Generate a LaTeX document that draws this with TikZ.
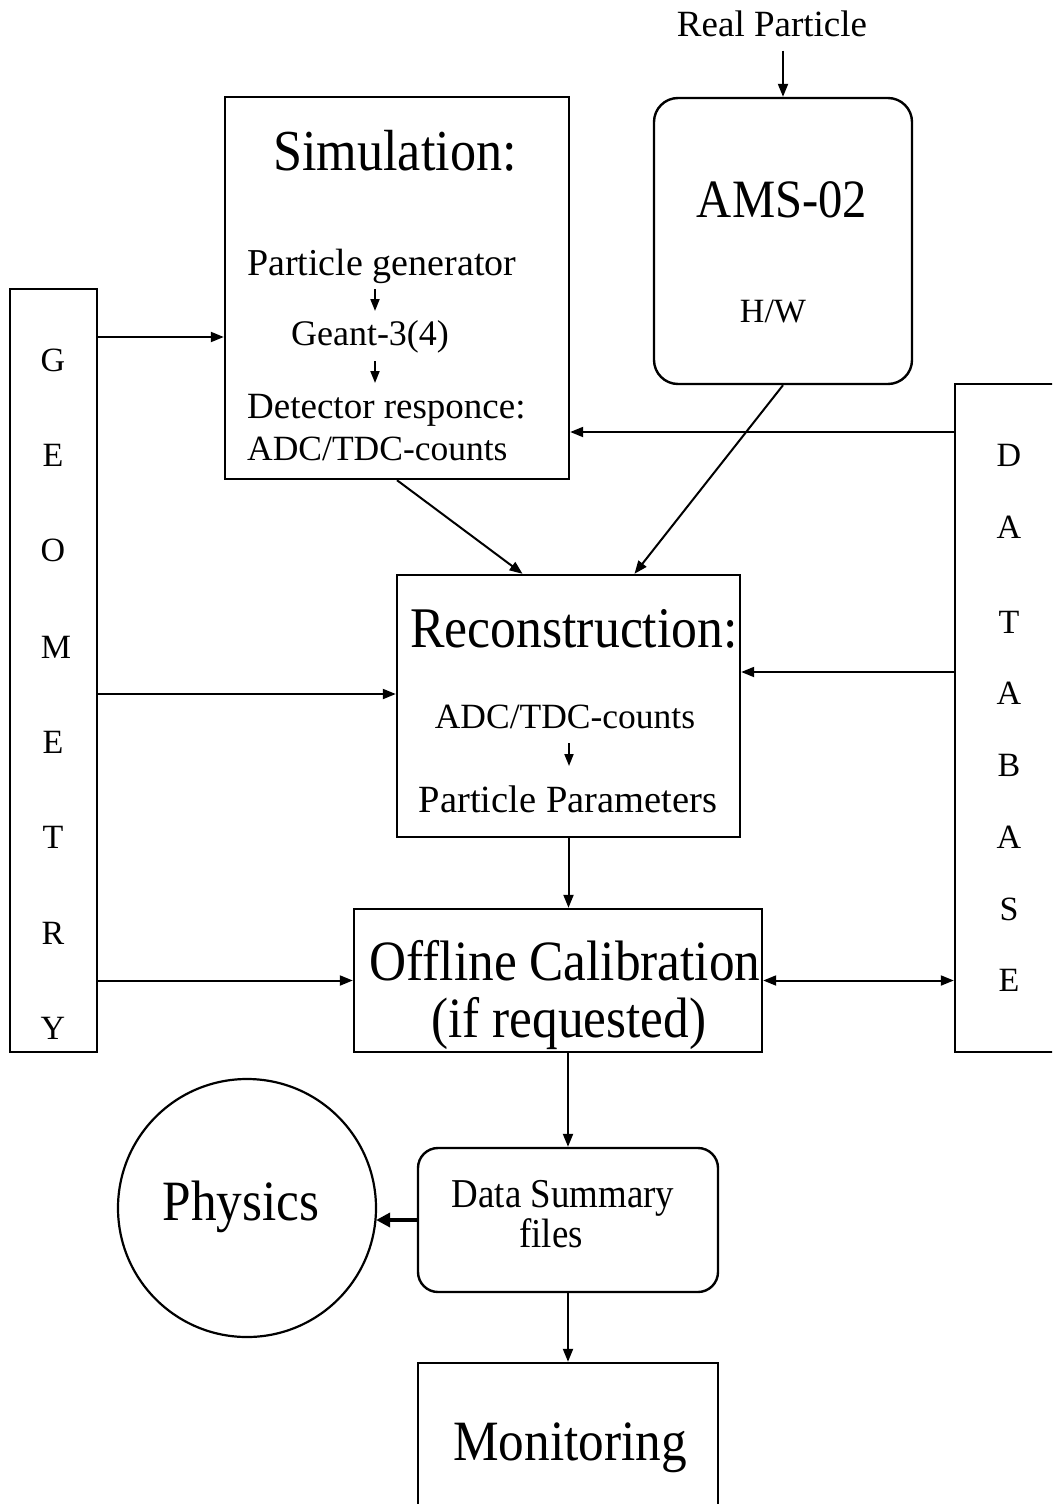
\documentclass[tikz,border=0pt]{standalone}
\usepackage{fontspec}
\setmainfont{Liberation Serif}
\newfontfamily\cond[FakeStretch=0.9]{Liberation Serif}
\usetikzlibrary{arrows.meta,calc}
\newcommand\fsz[1]{\fontsize{#1}{#1}\selectfont}
\tikzset{
  box/.style={draw, line width=2.4pt, inner sep=0pt},
  rbox/.style={box, rounded corners=24pt},
  txt/.style={inner sep=0pt, anchor=base},
  ltr/.style={inner sep=0pt, anchor=center, font=\fsz{34}},
  arr/.style={line width=2pt, -{Triangle[length=13pt,width=10pt]}},
  darr/.style={line width=2pt, {Triangle[length=13pt,width=10pt]}-{Triangle[length=13pt,width=10pt]}},
  sarr/.style={line width=1.8pt, -{Triangle[length=12pt,width=9pt]}},
  barr/.style={line width=4pt, -{Triangle[length=14pt,width=14pt]}}
}
\begin{document}
\begin{tikzpicture}[x=1pt,y=-1pt]
\useasboundingbox (0,0) rectangle (1052,1504);
\clip (0,0) rectangle (1052,1504);
% boxes
\node[box, minimum width=344pt, minimum height=382pt] (sim) at (397,288) {};
\node[rbox, minimum width=258pt, minimum height=286pt] (ams) at (783,241) {};
\node[box, minimum width=87pt, minimum height=763pt] (geo) at (53.5,670.5) {};
\node[box, minimum width=115pt, minimum height=668pt] (db) at (1012.5,718) {};
\node[box, minimum width=343pt, minimum height=262pt] (rec) at (568.5,706) {};
\node[box, minimum width=408pt, minimum height=143pt] (off) at (558,980.5) {};
\node[box, rounded corners=20pt, minimum width=300pt, minimum height=144pt] (ds) at (568,1220) {};
\node[box, minimum width=300pt, minimum height=167pt] (mon) at (568,1446.5) {};
\node[draw, line width=2.2pt, circle, minimum size=258pt, inner sep=0pt] (phys) at (247,1208) {};
% texts
\node[txt, font=\fsz{37}] (rp) at (772,37) {Real Particle};
\node[txt, font=\cond\fsz{58}] (simt) at (395,170) {Simulation:};
\node[txt, font=\fsz{38}, anchor=base west] (pg) at (247,275) {Particle generator};
\node[txt, font=\fsz{36}] (ge) at (370,345) {Geant-3(4)};
\node[txt, font=\fsz{37}, anchor=base west] (dr) at (247,418) {Detector responce:};
\node[txt, font=\fsz{35.5}, anchor=base west] (adc1) at (247,460) {ADC/TDC-counts};
\node[txt, font=\cond\fsz{54}] (amst) at (782,217) {AMS-02};
\node[txt, font=\fsz{34}] (hw) at (773,322) {H/W};
\node[txt, font=\cond\fsz{57.5}] (rect) at (574,647) {Reconstruction:};
\node[txt, font=\fsz{35.5}] (adc2) at (565,728) {ADC/TDC-counts};
\node[txt, font=\fsz{38.5}] (pp) at (568,812) {Particle Parameters};
\node[txt, font=\cond\fsz{57}] (oc1) at (565,980) {Offline Calibration};
\node[txt, font=\cond\fsz{57}] (oc2) at (569,1037) {(if requested)};
\node[txt, font=\cond\fsz{57}] (pht) at (241,1220) {Physics};
\node[txt, font=\cond\fsz{41}] (ds1) at (563,1207) {Data Summary};
\node[txt, font=\cond\fsz{41}] (ds2) at (551,1247) {files};
\node[txt, font=\cond\fsz{57}] (mont) at (570,1460) {Monitoring};
% GEOMETRY
\node[ltr] (g1) at (53,360) {G};
\node[ltr] (g2) at (53,455) {E};
\node[ltr] (g3) at (53,550) {O};
\node[ltr] (g4) at (56,647) {M};
\node[ltr] (g5) at (53,742) {E};
\node[ltr] (g6) at (53,837) {T};
\node[ltr] (g7) at (53,933) {R};
\node[ltr] (g8) at (53,1028) {Y};
% DATABASE
\node[ltr] (d1) at (1009,455) {D};
\node[ltr] (d2) at (1009,527) {A};
\node[ltr] (d3) at (1009,622) {T};
\node[ltr] (d4) at (1009,693) {A};
\node[ltr] (d5) at (1009,765) {B};
\node[ltr] (d6) at (1009,837) {A};
\node[ltr] (d7) at (1009,909) {S};
\node[ltr] (d8) at (1009,980) {E};
% helper coordinates
\coordinate (ySim) at (0,337);
\coordinate (yDbSim) at (0,432);
\coordinate (yDbRec) at (0,672);
\coordinate (yGeoRec) at (0,694);
\coordinate (yPh) at (0,1220);
\coordinate (sa1) at (375,289);
\coordinate (sa2) at (375,311);
\coordinate (sb1) at (375,361);
\coordinate (sb2) at (375,383);
\coordinate (sc1) at (569,743);
\coordinate (sc2) at (569,766);
% connectors
\draw[arr] ([yshift=-13pt]rp.south -| ams.north) -- (ams.north);
\draw[arr] (geo.east |- ySim) -- (sim.west |- ySim);
\draw[arr] (db.west |- yDbSim) -- (sim.east |- yDbSim);
\draw[arr] (geo.east |- yGeoRec) -- (rec.west |- yGeoRec);
\draw[arr] (db.west |- yDbRec) -- (rec.east |- yDbRec);
\draw[arr] (geo.east |- off.west) -- (off.west);
\draw[darr] (off.east) -- (db.west |- off.east);
\draw[arr] (sim.south) -- ($(rec.north west)!0.367!(rec.north east)$);
\draw[arr] (ams.south) -- ($(rec.north west)!0.691!(rec.north east)$);
\draw[arr] (rec.south) -- (off.north -| rec.south);
\draw[arr] (off.south -| ds.north) -- (ds.north);
\draw[arr] (ds.south) -- (mon.north);
\draw[barr] (ds.west |- yPh) -- ([xshift=-1pt]phys.east |- yPh);
\draw[sarr] (sa1) -- (sa2);
\draw[sarr] (sb1) -- (sb2);
\draw[sarr] (sc1) -- (sc2);
\end{tikzpicture}
\end{document}
